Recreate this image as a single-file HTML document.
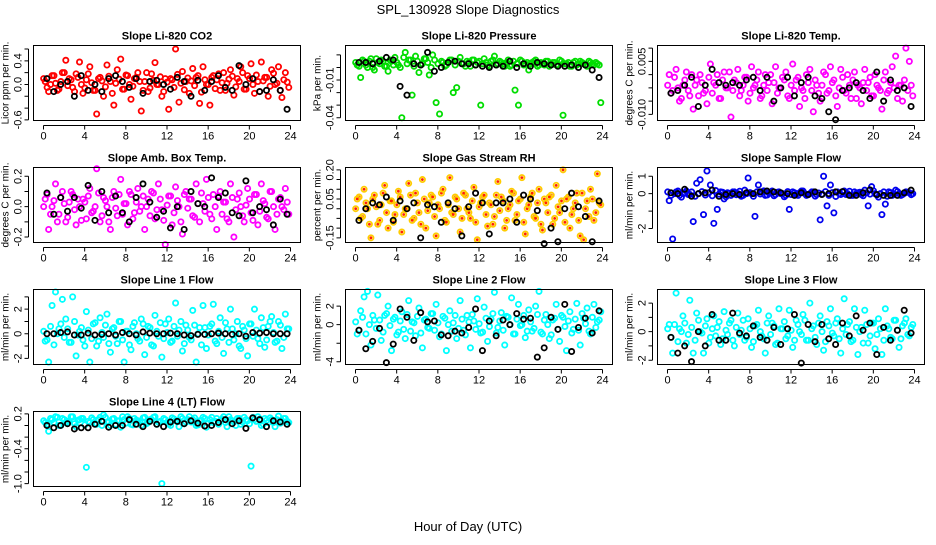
<!DOCTYPE html>
<html><head><meta charset="utf-8">
<style>
body{margin:0;background:#fff;}
svg text{font-family:"Liberation Sans",Arial,sans-serif;}
</style></head>
<body>
<svg id="chart" width="936" height="540" viewBox="0 0 936 540" xmlns="http://www.w3.org/2000/svg">
<rect x="0" y="0" width="936" height="540" fill="#fff"/>
<text x="468" y="14" font-size="13" text-anchor="middle">SPL_130928  Slope Diagnostics</text>
<text x="468" y="531" font-size="13" text-anchor="middle">Hour of Day (UTC)</text>
</svg>
<script>
const xTicks=[0,4,8,12,16,20,24];
const titles=["Slope Li-820 CO2","Slope Li-820 Pressure","Slope Li-820 Temp.","Slope Amb. Box Temp.","Slope Gas Stream RH","Slope Sample Flow","Slope Line 1 Flow","Slope Line 2 Flow","Slope Line 3 Flow","Slope Line 4 (LT) Flow"];
const yTitles=["Licor ppm per min.","kPa per min.","degrees C per min.","degrees C per min.","percent per min.","ml/min per min.","ml/min per min.","ml/min per min.","ml/min per min.","ml/min per min."];
const colors=["#ff0000","#00dd00","#ff00ff","#ff00ff","#ffcc00","#0000ee","#00ffff","#00ffff","#00ffff","#00ffff"];
const yTickVals=[[-0.6,-0.4,-0.2,0,0.2,0.4,0.6],[-0.04,-0.03,-0.02,-0.01,0,0.01],[-0.015,-0.01,-0.005,0,0.005,0.01],[-0.2,-0.1,0,0.1,0.2],[-0.15,-0.1,-0.05,0,0.05,0.1,0.15,0.2],[-2,-1,0,1],[-2,-1,0,1,2,3],[-4,-2,0,2],[-2,-1,0,1,2],[-1.0,-0.8,-0.6,-0.4,-0.2,0,0.2]];
const yTickLabels=[{"-0.6":"-0.6","0":"0.0","0.4":"0.4"},{"-0.04":"-0.04","-0.01":"-0.01"},{"-0.015":"-0.010","0.005":"0.005"},{"-0.2":"-0.2","0":"0.0","0.2":"0.2"},{"-0.15":"-0.15","0.05":"0.05","0.2":"0.20"},{"-2":"-2","0":"0","1":"1"},{"-2":"-2","0":"0","2":"2"},{"-4":"-4","0":"0","2":"2"},{"-2":"-2","0":"0","2":"2"},{"-1":"-1.0","-0.4":"-0.4","0.2":"0.2"}];
const yDomains=[[-0.61,0.66],[-0.0422,0.0175],[-0.0173,0.011],[-0.236,0.258],[-0.174,0.212],[-2.8,1.5],[-2.5,3.6],[-4.3,3.8],[-2.3,2.95],[-1.05,0.24]];

const col0=[0.05,-0.12,0.15,0.02,-0.08,0.2,0.41,0.1,-0.05,0.18,0.38,-0.15,0.08,0.3,-0.1,-0.5,0.12,-0.2,0.33,0.05,-0.35,0.25,0.43,-0.08,0.15,-0.25,0.1,0.2,-0.45,0.05,-0.12,0.18,0.37,0.0,-0.2,0.1,-0.42,0.08,0.6,-0.3,0.22,0.05,-0.15,0.27,0.12,-0.32,0.3,0.0,-0.35,0.15,0.08,-0.1,0.2,0.02,0.25,-0.18,0.1,0.3,-0.08,0.15,0.35,-0.15,0.05,0.38,0.12,-0.2,0.25,0.0,0.3,-0.22,0.2,-0.05];
const colB0=[0.1,-0.05,0.0,0.15,-0.1,0.05,0.2,-0.02,0.08,-0.12,0.12,0.0,-0.06,0.18,0.03,-0.1,0.1,0.06,-0.04,0.14,-0.15,0.02,0.09,-0.08,0.16,0.0,-0.03,0.12,0.05,-0.1,0.2,-0.06,0.07,0.0,0.13,-0.12,0.04,0.1,-0.05,0.17,0.02,-0.09,0.11,0.06,-0.02,0.15,-0.13,0.08,0.0,0.12,-0.07,0.18,0.03,-0.1,0.09,0.14,-0.04,0.05,0.2,-0.08,0.1,0.0,0.16,-0.12,0.06,0.12,-0.03,0.19,0.02,-0.1,0.08,0.04];
const blk0=[0.1,-0.12,0.0,0.05,-0.2,0.15,-0.1,0.0,-0.12,0.1,0.15,0.05,-0.05,0.1,-0.15,0.05,0.07,0.0,-0.08,0.12,0.05,-0.2,0.07,-0.1,0.05,0.15,-0.05,-0.1,0.32,0.0,0.1,-0.12,-0.1,0.08,-0.1,-0.42];
const col1=[0.002,-0.008,0.005,0.0,0.007,-0.002,0.004,0.006,0.001,-0.003,0.005,0.008,0.002,-0.04,0.012,0.006,-0.022,0.009,-0.004,0.003,0.007,-0.006,0.01,-0.028,-0.037,0.004,0.002,0.006,-0.02,-0.016,0.008,0.003,0.005,0.001,0.006,0.004,-0.03,0.007,0.002,0.005,0.009,0.003,0.004,0.001,0.006,0.002,-0.018,-0.03,0.005,0.003,-0.002,0.004,0.006,0.002,0.003,0.005,0.001,0.004,0.002,0.006,-0.038,0.003,0.001,0.004,0.002,0.005,0.003,0.001,0.004,0.002,0.003,-0.028];
const colB1=[0.004,0.001,0.006,0.002,0.005,0.0,0.007,0.003,0.005,0.001,0.006,0.002,0.004,0.0,0.008,0.003,0.006,0.001,0.005,0.002,0.007,0.004,0.0,0.006,0.003,0.005,0.001,0.004,0.006,0.002,0.005,0.003,0.001,0.004,0.006,0.002,0.005,0.003,0.004,0.001,0.006,0.002,0.005,0.003,0.004,0.001,0.005,0.003,0.006,0.002,0.004,0.003,0.005,0.001,0.004,0.002,0.005,0.003,0.004,0.002,0.005,0.003,0.004,0.001,0.005,0.003,0.004,0.002,0.005,0.003,0.004,0.002];
const blk1=[0.004,0.004,0.003,0.005,0.008,0.006,-0.015,-0.022,0.003,0.002,0.012,-0.003,0.0,0.004,0.005,0.003,0.003,0.002,0.001,0.0,0.002,0.001,0.005,0.0,0.003,0.001,0.004,0.003,0.002,0.001,0.001,0.002,0.0,0.002,-0.002,-0.008];
const col2=[0.0,-0.006,0.002,-0.01,-0.004,0.001,-0.008,-0.013,-0.002,0.0,-0.007,-0.011,0.004,-0.003,0.0,-0.009,0.001,-0.005,-0.016,-0.002,0.002,-0.006,-0.001,-0.01,0.003,-0.004,0.001,-0.008,0.0,-0.003,-0.011,0.003,-0.005,-0.001,0.001,-0.009,0.004,-0.002,-0.012,-0.006,0.0,0.002,-0.014,-0.004,-0.01,0.001,-0.007,0.003,-0.002,-0.012,0.002,-0.006,0.0,-0.009,0.001,-0.004,-0.011,0.002,-0.003,-0.008,0.0,-0.005,-0.013,0.001,-0.006,0.003,0.007,-0.004,-0.01,0.01,0.005,-0.008];
const colB2=[-0.004,-0.007,-0.001,-0.005,-0.009,-0.002,-0.006,0.0,-0.004,-0.008,-0.003,-0.006,-0.001,-0.007,-0.004,-0.009,-0.002,-0.005,0.001,-0.006,-0.003,-0.008,-0.004,-0.001,-0.007,-0.005,-0.002,-0.009,-0.004,-0.006,0.0,-0.003,-0.007,-0.005,-0.002,-0.008,-0.004,-0.006,-0.001,-0.005,-0.009,-0.003,-0.006,-0.002,-0.007,-0.004,0.0,-0.006,-0.003,-0.008,-0.005,-0.001,-0.007,-0.004,-0.002,-0.009,-0.005,-0.003,-0.006,-0.001,-0.008,-0.004,-0.006,-0.002,-0.007,-0.003,-0.005,-0.009,-0.004,-0.002,-0.006,-0.004];
const blk2=[-0.007,-0.006,-0.004,-0.001,-0.012,-0.004,0.002,-0.003,-0.004,-0.003,-0.004,-0.002,-0.001,-0.006,-0.001,-0.01,-0.005,-0.001,-0.008,-0.003,-0.001,-0.008,-0.009,-0.014,-0.017,-0.006,-0.005,-0.003,-0.006,-0.009,0.001,-0.01,-0.002,-0.006,-0.005,-0.012];
const col3=[0.05,-0.15,0.0,0.15,-0.05,0.1,-0.1,0.03,0.08,-0.12,0.0,0.05,-0.08,0.12,-0.03,0.25,-0.1,0.06,0.0,-0.15,0.1,-0.06,0.18,0.02,-0.12,0.08,-0.04,0.12,0.0,-0.15,0.05,0.1,-0.08,0.15,-0.02,-0.25,0.07,-0.12,0.13,0.0,-0.18,0.1,0.05,-0.06,0.15,-0.1,0.02,0.18,-0.05,0.08,-0.15,0.1,0.03,-0.08,0.15,-0.2,0.05,0.0,-0.1,0.12,-0.04,0.08,-0.12,0.15,0.02,-0.08,0.1,-0.15,0.05,0.0,0.12,-0.05];
const colB3=[0.0,0.08,-0.05,0.04,-0.1,0.06,0.02,-0.07,0.1,-0.02,0.05,-0.09,0.03,0.07,-0.04,0.0,0.09,-0.06,0.04,-0.1,0.06,-0.01,0.08,-0.05,0.02,0.1,-0.08,0.03,-0.03,0.07,0.0,-0.06,0.09,-0.02,0.05,-0.09,0.01,0.07,-0.04,0.04,-0.1,0.08,-0.01,0.05,-0.07,0.02,0.09,-0.03,0.06,-0.08,0.0,0.07,-0.05,0.03,-0.1,0.06,-0.02,0.09,-0.06,0.01,0.05,-0.09,0.08,-0.03,0.04,-0.07,0.1,0.0,-0.05,0.06,-0.02,0.03];
const blk3=[0.09,-0.05,0.06,-0.03,0.06,-0.01,0.14,-0.09,0.1,-0.04,0.07,-0.04,-0.1,0.06,0.15,0.03,-0.07,-0.03,-0.14,0.0,-0.15,0.1,0.02,0.0,0.19,0.06,0.09,-0.04,-0.06,0.17,-0.04,0.0,-0.02,-0.12,0.05,-0.05];
const col4=[0.05,-0.05,0.1,0.0,-0.15,0.07,-0.08,0.02,0.12,-0.1,0.04,-0.03,0.09,-0.12,0.0,0.13,-0.06,0.08,-0.02,0.15,-0.1,0.03,0.06,-0.14,0.0,0.1,-0.07,0.16,-0.03,0.05,-0.12,0.08,0.0,-0.05,0.11,-0.16,0.03,0.07,-0.09,0.02,-0.04,0.14,0.06,-0.1,0.0,0.09,-0.06,0.04,0.16,-0.13,0.02,0.08,-0.05,0.1,-0.11,0.03,0.06,-0.08,0.12,-0.02,0.2,0.05,-0.1,0.0,0.08,-0.14,-0.16,0.04,0.1,-0.06,0.18,0.02];
const colB4=[0.0,0.06,-0.04,0.03,-0.08,0.05,0.01,-0.06,0.08,-0.02,0.04,-0.07,0.02,0.06,-0.03,0.0,0.07,-0.05,0.03,-0.08,0.05,-0.01,0.07,-0.04,0.02,0.08,-0.06,0.02,-0.02,0.06,0.0,-0.05,0.07,-0.02,0.04,-0.07,0.01,0.06,-0.03,0.03,-0.08,0.07,-0.01,0.04,-0.06,0.02,0.08,-0.03,0.05,-0.07,0.0,0.06,-0.04,0.03,-0.08,0.05,-0.02,0.07,-0.05,0.01,0.04,-0.07,0.06,-0.03,0.03,-0.06,0.08,0.0,-0.04,0.05,-0.02,0.03];
const blk4=[-0.06,0.0,0.03,0.02,0.06,-0.06,0.04,0.0,0.03,-0.15,0.02,0.01,-0.07,0.03,0.0,-0.14,0.01,0.08,0.03,-0.13,0.03,0.03,0.05,-0.07,0.07,0.05,-0.01,-0.18,-0.1,-0.17,0.0,0.08,0.01,-0.04,-0.17,0.04];
const col5=[-0.4,-2.6,0.1,-0.1,0.0,0.15,-0.05,-1.6,0.6,0.8,-1.2,1.3,0.5,-1.7,-0.9,0.1,-0.3,0.05,-0.1,0.1,0.0,-0.15,0.2,0.9,0.0,-1.3,0.5,0.1,-0.1,0.05,0.15,-0.05,0.1,0.0,-0.1,-0.9,0.1,-0.05,0.05,0.15,-0.1,0.0,0.1,-0.05,-1.5,1.0,-0.7,0.5,-1.1,0.1,-0.05,0.15,0.0,-0.1,0.1,0.05,-0.05,0.2,-0.7,0.4,0.0,-0.2,-1.2,-0.6,0.1,-0.1,0.2,0.0,-0.05,0.1,0.05,0.0];
const colB5=[0.1,-0.1,0.0,0.15,-0.2,0.05,-0.05,0.1,-0.15,0.0,0.12,-0.08,0.05,-0.12,0.18,-0.03,0.08,-0.18,0.02,0.1,-0.06,0.14,-0.1,0.0,0.06,-0.15,0.1,-0.02,0.16,-0.08,0.03,-0.12,0.08,0.0,-0.18,0.12,-0.05,0.05,-0.1,0.15,0.0,-0.06,0.1,-0.14,0.04,-0.02,0.12,-0.1,0.06,-0.16,0.0,0.1,-0.05,0.14,-0.1,0.02,0.08,-0.12,0.05,-0.03,0.16,-0.08,0.0,0.1,-0.15,0.06,-0.04,0.12,-0.1,0.02,0.08,-0.06];
const blk5=[0.05,0.0,0.25,-0.15,0.0,0.05,0.2,-0.15,-0.05,0.0,-0.05,0.05,0.0,0.1,0.15,0.1,0.05,0.0,-0.1,0.05,-0.05,0.1,-0.05,0.0,0.1,0.12,-0.1,-0.1,0.05,0.22,-0.05,-0.1,-0.1,-0.1,0.05,0.2];
const col6=[-0.6,-2.3,2.3,3.4,0.4,2.8,1.2,-0.7,3.0,-1.8,0.2,-0.5,1.8,-2.3,0.8,-1.0,1.3,-0.3,1.6,-1.5,0.5,-0.8,1.0,-2.3,0.2,-1.3,0.9,-0.4,1.2,-1.7,0.6,-0.9,1.5,-0.2,-1.9,0.8,1.2,-0.6,2.5,0.3,-1.4,0.7,-0.3,1.9,-2.3,0.5,2.3,-1.2,0.6,2.4,-0.8,1.3,-1.6,0.4,2.0,-0.5,1.0,-1.2,0.3,-1.8,0.8,2.0,-0.4,1.3,-1.1,0.6,1.4,-0.7,1.0,-1.2,1.6,0.4];
const colB6=[0.2,-0.5,0.6,-0.9,0.0,0.8,-0.3,0.4,-0.7,1.0,-0.1,0.5,-1.0,0.3,-0.4,0.9,-0.6,0.1,0.7,-0.8,0.4,-0.2,1.0,-0.5,0.2,-0.9,0.6,0.0,-0.6,0.8,-0.3,0.5,-1.0,0.2,0.9,-0.4,0.1,-0.7,0.6,-0.2,1.0,-0.8,0.3,-0.5,0.7,0.0,-0.9,0.5,-0.1,0.8,-0.6,0.2,-0.3,0.9,-0.7,0.4,0.0,-1.0,0.6,-0.4,0.8,-0.2,0.3,-0.8,0.5,-0.5,1.0,0.1,-0.6,0.7,-0.3,0.4];
const blk6=[0.0,0.0,0.1,0.15,-0.1,-0.1,0.05,-0.1,-0.05,0.0,-0.1,0.1,0.0,-0.1,0.15,0.05,0.0,0.0,0.05,0.0,-0.1,-0.15,-0.05,-0.05,0.0,0.05,0.0,-0.05,0.0,-0.2,0.1,0.05,0.1,0.0,0.0,0.0];
const col7=[-1.0,1.5,3.0,3.6,-2.2,0.5,3.2,-1.7,1.0,2.0,-2.8,0.8,-0.8,1.4,-1.5,2.6,0.3,-1.2,1.8,-2.5,0.6,-0.4,1.2,2.2,-1.3,0.9,-2.8,1.5,0.2,-1.5,2.6,-0.6,1.0,-2.5,0.4,2.8,-0.9,1.9,-1.8,0.6,3.5,-0.3,1.3,-2.2,0.8,2.9,-1.0,2.2,0.0,-1.4,1.6,-0.7,2.0,3.6,-1.0,1.1,-1.5,0.5,2.2,-1.8,0.8,-2.8,1.4,-0.5,2.3,-2.2,0.7,1.8,-1.0,2.2,0.3,1.4];
const colB7=[0.3,-0.6,0.8,-1.0,0.0,1.0,-0.4,0.5,-0.8,1.2,-0.1,0.6,-1.1,0.4,-0.5,1.1,-0.7,0.2,0.9,-0.9,0.5,-0.3,1.2,-0.6,0.2,-1.0,0.7,0.0,-0.7,1.0,-0.4,0.6,-1.1,0.3,1.1,-0.5,0.1,-0.8,0.7,-0.2,1.2,-0.9,0.4,-0.6,0.9,0.0,-1.0,0.6,-0.1,1.0,-0.7,0.3,-0.4,1.1,-0.8,0.5,0.0,-1.1,0.7,-0.5,1.0,-0.2,0.4,-0.9,0.6,-0.6,1.2,0.1,-0.7,0.8,-0.3,0.5];
const blk7=[-0.6,-2.6,-1.8,-0.4,-4.1,-2.1,1.7,0.8,-1.7,1.3,0.3,0.4,-1.1,-1.2,-0.7,-0.9,-0.3,1.7,-2.8,0.4,-1.2,0.5,0.0,1.2,0.6,0.7,-3.5,-2.5,0.8,-0.5,2.2,-2.9,-0.3,0.7,-0.9,1.5];
const col8=[0.5,-1.5,2.7,0.2,1.1,-0.8,2.2,-1.5,1.3,0.0,-1.5,0.9,-0.4,1.1,0.3,-0.9,1.4,-0.2,0.8,-1.0,1.3,0.1,-0.6,0.9,-1.1,0.4,1.5,-0.3,-1.5,1.1,0.6,-0.9,1.6,0.2,-0.5,1.5,-1.1,0.8,0.0,1.2,-0.6,2.0,0.4,-0.9,1.1,-1.3,0.7,1.6,-0.3,0.9,-1.5,2.3,0.5,-0.7,1.6,-1.6,0.3,1.5,-0.8,0.6,-1.2,0.9,-1.6,1.6,0.2,-0.5,0.8,-1.1,0.4,0.9,-0.3,0.5];
const colB8=[0.2,-0.4,0.5,-0.7,0.0,0.6,-0.2,0.3,-0.6,0.8,-0.1,0.4,-0.8,0.2,-0.3,0.7,-0.5,0.1,0.6,-0.6,0.3,-0.2,0.8,-0.4,0.2,-0.7,0.5,0.0,-0.5,0.6,-0.2,0.4,-0.8,0.2,0.7,-0.3,0.1,-0.6,0.5,-0.2,0.8,-0.6,0.2,-0.4,0.6,0.0,-0.7,0.4,-0.1,0.6,-0.5,0.2,-0.2,0.7,-0.6,0.3,0.0,-0.8,0.5,-0.3,0.6,-0.2,0.2,-0.6,0.4,-0.4,0.8,0.1,-0.5,0.6,-0.2,0.3];
const blk8=[-0.4,-1.5,-1.0,-2.1,0.0,-1.0,1.2,-0.6,-0.6,1.3,-0.1,-0.3,0.4,-0.4,-0.6,0.3,-0.9,0.2,1.2,-2.2,0.5,-0.7,0.5,-0.5,-0.9,0.6,-0.3,1.1,0.1,0.6,-1.6,0.3,-0.6,0.1,1.5,-0.1];
const col9=[0.05,-0.1,0.1,0.15,0.0,0.12,0.05,0.08,0.15,-0.02,0.1,0.12,-0.72,0.05,0.1,0.02,0.14,0.18,0.06,0.0,0.12,0.08,-0.03,0.1,0.15,0.02,0.12,0.08,0.0,0.14,0.05,0.1,0.15,0.06,-1.0,0.1,0.02,0.13,0.08,-0.02,0.12,0.06,0.15,0.1,0.0,0.08,0.14,-0.03,0.1,0.05,0.12,0.08,0.15,-0.02,0.1,0.06,0.12,0.02,0.14,0.08,-0.7,0.1,0.15,0.0,0.12,0.05,0.1,-0.02,0.16,0.08,0.12,0.05];
const colB9=[0.08,0.02,0.12,0.05,0.14,0.0,0.1,0.06,0.15,0.03,0.09,0.12,0.01,0.07,0.13,0.04,0.1,0.0,0.14,0.06,0.11,0.02,0.08,0.15,0.04,0.12,0.01,0.09,0.06,0.13,0.03,0.1,0.14,0.02,0.07,0.12,0.05,0.0,0.11,0.08,0.15,0.03,0.1,0.06,0.13,0.01,0.09,0.12,0.04,0.14,0.07,0.02,0.11,0.05,0.15,0.08,0.0,0.12,0.06,0.1,0.03,0.14,0.07,0.11,0.02,0.09,0.13,0.05,0.1,0.04,0.12,0.07];
const blk9=[0.0,-0.04,0.0,0.03,-0.06,-0.04,-0.04,0.02,0.07,-0.03,0.0,0.0,0.1,0.02,-0.02,0.07,0.02,-0.02,0.06,0.07,0.03,0.08,0.04,-0.01,0.0,0.05,0.1,0.03,0.08,-0.05,0.13,0.1,-0.02,0.08,0.06,0.02];
const colorSeries=[col0,col1,col2,col3,col4,col5,col6,col7,col8,col9];
const colorSeriesB=[colB0,colB1,colB2,colB3,colB4,colB5,colB6,colB7,colB8,colB9];
const blackSeries=[blk0,blk1,blk2,blk3,blk4,blk5,blk6,blk7,blk8,blk9];

const NS="http://www.w3.org/2000/svg";
const svg=document.getElementById('chart');
function mk(tag,attrs,parent){const e=document.createElementNS(NS,tag);for(const k in attrs)e.setAttribute(k,attrs[k]);(parent||svg).appendChild(e);return e;}
const lefts=[33.5,345.5,657.5], W=267, H=75;
function hourOf(i,n){return (i+0.5)*24/n;}
function hourOfB(i,n){return (i+0.05)*24/n;}
for(let p=0;p<10;p++){
  const L=lefts[p%3], T=45.5+122*Math.floor(p/3), B=T+H, R=L+W;
  const g=mk('g',{});
  
  
  const xs=h=>L+10+(h/24)*(W-20);
  const d=yDomains[p];
  const ys=v=>B-(v-d[0])/(d[1]-d[0])*H;
  const t=mk('text',{x:(L+R)/2,y:T-6,'font-size':11,'font-weight':'bold','text-anchor':'middle'},g);
  t.textContent=titles[p];
  
  
  const c=colors[p];
  const drawColor=(arr,hf)=>arr.forEach((v,i)=>{
    const cx=xs(hf(i,arr.length)), cy=ys(v);
    const m=mk('circle',{cx:cx,cy:cy,r:2.6,fill:'none',stroke:c,'stroke-width':1.8},g);
    
    
    if(p===4){const q=mk('circle',{cx:cx,cy:cy,r:1.4,fill:'#ff2000'},g);
      
      }
  });
  drawColor(colorSeriesB[p],hourOfB);
  drawColor(colorSeries[p],hourOf);
  blackSeries[p].forEach((v,i)=>{
    const m=mk('circle',{cx:xs(hourOf(i,blackSeries[p].length)),cy:ys(v),r:2.6,fill:'none',stroke:'#000','stroke-width':1.8},g);
    
    
  });
  const box=mk('rect',{x:L,y:T,width:W,height:H,fill:'none',stroke:'#000','stroke-width':1},g);
  
  
  const xa=mk('path',{d:'M'+xs(0)+' '+(B+5)+'H'+xs(24)+xTicks.map(h=>'M'+xs(h)+' '+(B+5)+'v4').join(''),stroke:'#000',fill:'none'},g);
  
  
  xTicks.forEach(h=>{const tx=mk('text',{x:xs(h),y:B+19,'font-size':11,'text-anchor':'middle'},g);tx.textContent=String(h);
    
    });
  const tv=yTickVals[p];
  const ya=mk('path',{d:'M'+(L-5)+' '+ys(tv[0])+'V'+ys(tv[tv.length-1])+tv.map(v=>'M'+(L-5)+' '+ys(v)+'h-4').join(''),stroke:'#000',fill:'none'},g);
  
  
  tv.forEach(v=>{const lab=yTickLabels[p][String(v)];if(!lab)return;
    const yy=ys(v);const ty=mk('text',{x:L-12,y:yy,'font-size':11,'text-anchor':'middle',transform:'rotate(-90 '+(L-12)+' '+yy+')'},g);
    ty.textContent=lab;
    
    });
  const cy=(T+B)/2;
  const yt=mk('text',{x:L-25,y:cy,'font-size':10,'text-anchor':'middle',transform:'rotate(-90 '+(L-25)+' '+cy+')'},g);
  yt.textContent=yTitles[p];
  
  
}
</script>
</body></html>
